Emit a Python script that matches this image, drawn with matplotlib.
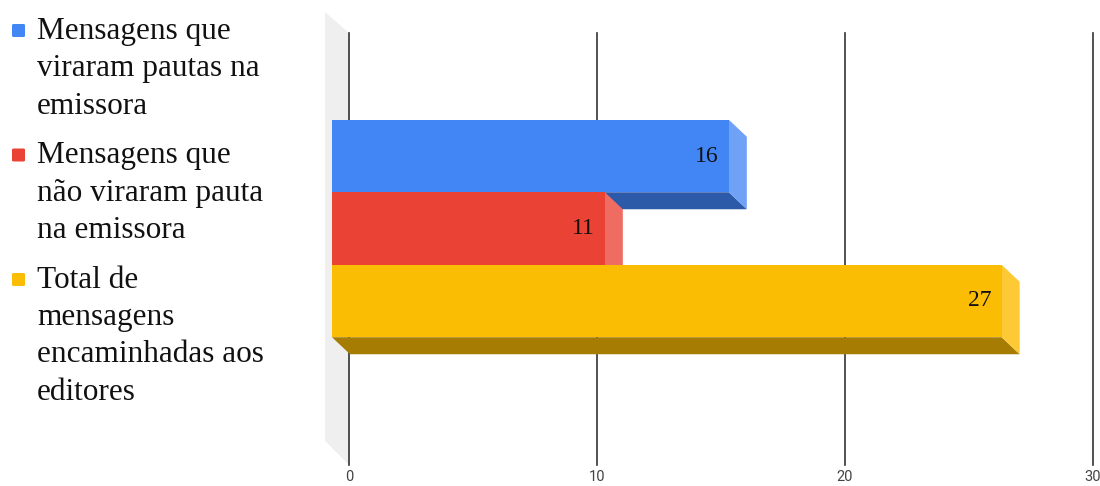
#!/usr/bin/env python3
# -*- coding: utf-8 -*-

import matplotlib
matplotlib.use("Agg")
import matplotlib.pyplot as plt
from matplotlib.patches import Polygon, FancyBboxPatch

# dados
series = [
    "Mensagens que\nviraram pautas na\nemissora",
    "Mensagens que\nnão viraram pauta\nna emissora",
    "Total de\nmensagens\nencaminhadas aos\neditores",
]
values = [16, 11, 27]
front_colors = ["#4285f4", "#ea4335", "#fbbc04"]
side_colors = ["#6fa1f7", "#ef6c62", "#fdc935"]
bottom_colors = ["#2d5aa8", "#a32f25", "#a67c02"]
xticks = [0, 10, 20, 30]

W, H = 1100, 486
fig = plt.figure(figsize=(W / 100, H / 100), dpi=100)

# eixo em unidades de dados: 1 unidade x = 24.8 px, 1 categoria = 72.5 px
ax = fig.add_axes([300 / W, 0, 800 / W, 1])
ax.set_xlim(-1.976, 30.28)
ax.set_ylim(4.552, -2.152)
ax.axis("off")

# profundidade 3D (em unidades de dados)
dx = 18 / 24.8
dy = 17 / 72.5
x_front = -17 / 24.8  # plano frontal deslocado para a esquerda

# parede lateral cinza
wall_w = 24 / 24.8
ax.add_patch(Polygon([(-wall_w, -1.986), (0, -1.697), (0, 4.262), (-wall_w, 3.931)],
                     closed=True, facecolor="#efefef", edgecolor="none", zorder=0))

# linhas de grade (plano de fundo)
for t in xticks:
    ax.plot([t, t], [-1.697, 4.262], color="#333333", lw=1.2, zorder=1)
    ax.text(t, 4.43, str(t), ha="center", va="center", fontsize=10.5,
            color="#444444", family="Roboto")

# barras 3D
half = 0.5
for i, (v, cf, cs, cb) in enumerate(zip(values, front_colors, side_colors, bottom_colors)):
    x0 = x_front
    x1 = x_front + v
    y0 = i - half
    y1 = i + half
    z = 2 + i
    # face inferior
    ax.add_patch(Polygon([(x0, y1), (x1, y1), (x1 + dx, y1 + dy), (x0 + dx, y1 + dy)],
                         closed=True, facecolor=cb, edgecolor="none", zorder=z))
    # face lateral
    ax.add_patch(Polygon([(x1, y0), (x1 + dx, y0 + dy), (x1 + dx, y1 + dy), (x1, y1)],
                         closed=True, facecolor=cs, edgecolor="none", zorder=z))
    # face frontal
    ax.add_patch(Polygon([(x0, y0), (x1, y0), (x1, y1), (x0, y1)],
                         closed=True, facecolor=cf, edgecolor="none", zorder=z + 0.5))
    ax.text(x1 - 0.4, i, str(v), ha="right", va="center", fontsize=17,
            family="Liberation Serif", color="#111111", zorder=10)

# legenda
line_step = 37.5
group_gap = 12
ytop = 31
for name, c in zip(series, front_colors):
    lines = name.split("\n")
    fig.patches.append(FancyBboxPatch((12 / W, 1 - (ytop + 6) / H), 13 / W, 13 / H,
                                      boxstyle="round,pad=0,rounding_size=0.002",
                                      transform=fig.transFigure, facecolor=c,
                                      edgecolor="none"))
    for k, ln in enumerate(lines):
        fig.text(37 / W, 1 - (ytop + k * line_step) / H, ln, ha="left", va="center",
                 fontsize=22.5, family="Liberation Serif", color="#111111")
    ytop += len(lines) * line_step + group_gap

fig.savefig("out.png", dpi=100)
